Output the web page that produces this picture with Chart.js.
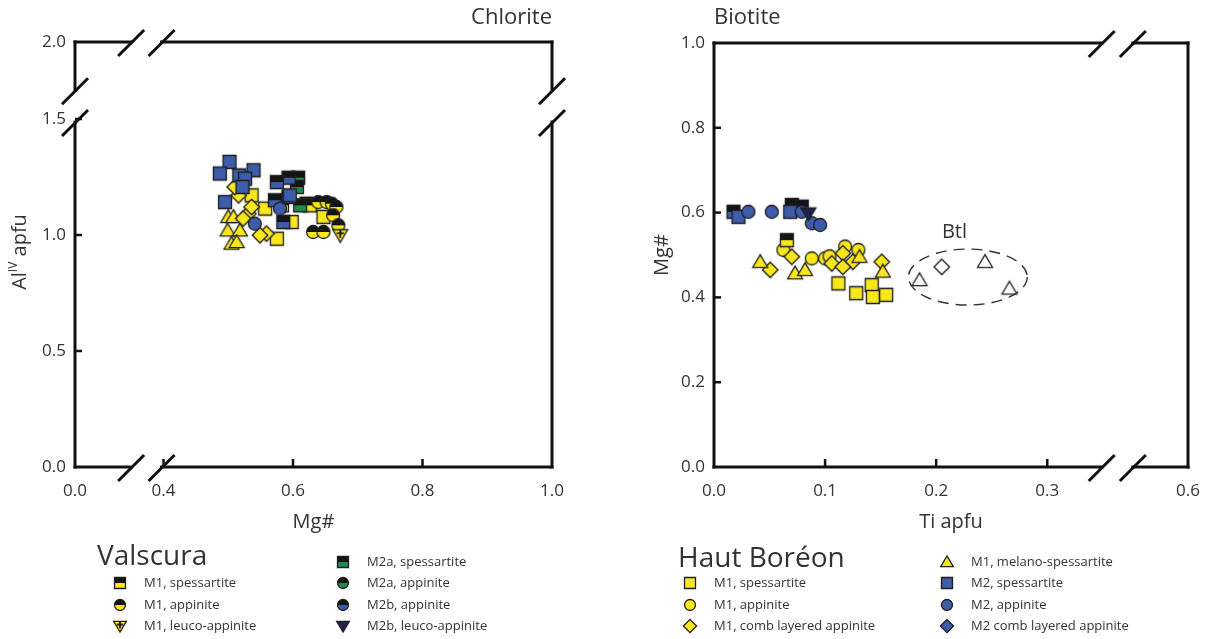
<!DOCTYPE html>
<html>
<head>
<meta charset="utf-8">
<script src="https://cdn.jsdelivr.net/npm/chart.js@4.4.1/dist/chart.umd.min.js"></script>
<style>
  body { margin: 0; background: #fff; }
  #wrap { position: relative; width: 1206px; height: 639px; }
  .box { position: absolute; top: 0; width: 603px; height: 639px; }
</style>
</head>
<body>
<div id="wrap">
  <div class="box" style="left:0"><canvas id="chlorite" width="603" height="639"></canvas></div>
  <div class="box" style="left:603px"><canvas id="biotite" width="603" height="639"></canvas></div>
</div>
<script>
// ---- chlorite (Mg# vs Al IV apfu), x axis broken between 0.0 and 0.4, y between 1.5 and 2.0
const chlXMin = 0.2633, chlXMax = 1.0;
const chlXTicks = [chlXMin, 0.4, 0.6, 0.8, 1.0];
const chlXTickLabels = ['0.0', '0.4', '0.6', '0.8', '1.0'];
const chlYMin = 0, chlYMax = 1.832;
const chlYTicks = [0, 0.5, 1.0, 1.5, chlYMax];
const chlYTickLabels = ['0.0', '0.5', '1.0', '1.5', '2.0'];

const chlHbM2Spess = [[0.502,1.315],[0.487,1.265],[0.517,1.257],[0.539,1.279],[0.526,1.243],[0.522,1.207],[0.495,1.142],[0.595,1.171]];
const chlHbM2App = [[0.541,1.049],[0.580,1.114]];
const chlVM2aSpess = [[0.608,1.247],[0.611,1.128],[0.606,1.207]];
const chlVM2bSpess = [[0.593,1.247],[0.575,1.228],[0.572,1.150],[0.585,1.056],[0.593,1.164]];
const chlVM1Spess = [[0.583,1.128],[0.621,1.135],[0.626,1.128]];
const chlHbM1Spess = [[0.536,1.171],[0.557,1.114],[0.598,1.056],[0.575,0.984],[0.647,1.078]];
const chlHbM1Comb = [[0.516,1.171],[0.531,1.092],[0.559,1.006],[0.549,0.999],[0.523,1.071],[0.510,1.207],[0.536,1.121]];
const chlHbM1Melano = [[0.500,1.078],[0.508,1.078],[0.499,1.020],[0.518,1.020],[0.505,0.963],[0.513,0.970]];
const chlVM1App = [[0.639,1.142],[0.652,1.142],[0.660,1.135],[0.667,1.121],[0.662,1.085],[0.670,1.042],[0.631,1.013],[0.647,1.013]];
const chlVM1Leuco = [[0.673,0.999]];

// ---- biotite (Ti apfu vs Mg#), x axis broken between 0.3 and 0.6
const btXMin = 0, btXMax = 0.4267;
const btXTicks = [0, 0.1, 0.2, 0.3, btXMax];
const btXTickLabels = ['0.0', '0.1', '0.2', '0.3', '0.6'];
const btYTicks = [0, 0.2, 0.4, 0.6, 0.8, 1.0];
const btYTickLabels = ['0.0', '0.2', '0.4', '0.6', '0.8', '1.0'];

const btVM2bSpess = [[0.0176,0.602],[0.070,0.618],[0.079,0.614]];
const btHbM2Spess = [[0.022,0.590],[0.0686,0.602]];
const btHbM2App = [[0.031,0.602],[0.052,0.602],[0.079,0.602],[0.088,0.575],[0.0955,0.571]];
const btVM2bLeuco = [[0.085,0.598]];
const btVM1Spess = [[0.0656,0.535]];
const btHbM1App = [[0.0625,0.512],[0.088,0.492],[0.100,0.492],[0.118,0.520],[0.130,0.512],[0.104,0.497]];
const btHbM1Comb = [[0.070,0.496],[0.0506,0.465],[0.106,0.480],[0.116,0.504],[0.125,0.484],[0.116,0.472],[0.151,0.484]];
const btHbM1Melano = [[0.0416,0.484],[0.073,0.457],[0.082,0.465],[0.152,0.461],[0.131,0.496]];
const btHbM1Spess = [[0.112,0.433],[0.128,0.410],[0.142,0.429],[0.143,0.401],[0.155,0.406]];
const btlTri = [[0.185,0.441],[0.244,0.484],[0.266,0.421]];
const btlDia = [[0.205,0.472]];
const btlEllipse = { cx: 0.2285, cy: 0.448, rx: 0.0535, ry: 0.066 };

const valscuraLabels = ['M1, spessartite', 'M1, appinite', 'M1, leuco-appinite',
  'M2a, spessartite', 'M2a, appinite', 'M2b, appinite', 'M2b, leuco-appinite'];
const boreonLabels = ['M1, spessartite', 'M1, appinite', 'M1, comb layered appinite',
  'M1, melano-spessartite', 'M2, spessartite', 'M2, appinite', 'M2 comb layered appinite'];

const YEL = '#f8e71c', BLU = '#3d5caa', GRN = '#1f8a4c', BLK = '#141414', NAVY = '#1e2250';
const FONT = "'Open Sans', 'Noto Sans', sans-serif";
const TXT = '#333';

function makeSymbol(shape, top, bottom, size, mark) {
  const pad = 3;
  const c = document.createElement('canvas');
  c.width = c.height = Math.ceil(size * 1.2) + pad * 2;
  const g = c.getContext('2d');
  const m = c.width / 2, r = size / 2;
  g.beginPath();
  if (shape === 'square') g.rect(m - r, m - r, size, size);
  else if (shape === 'circle') g.arc(m, m, r, 0, Math.PI * 2);
  else if (shape === 'diamond') {
    const d = r * 1.2;
    g.moveTo(m, m - d); g.lineTo(m + d, m); g.lineTo(m, m + d); g.lineTo(m - d, m); g.closePath();
  } else if (shape === 'triangle') {
    g.moveTo(m, m - r * 1.1); g.lineTo(m + r * 1.15, m + r * 0.85); g.lineTo(m - r * 1.15, m + r * 0.85); g.closePath();
  } else if (shape === 'triangleDown') {
    g.moveTo(m, m + r * 1.1); g.lineTo(m + r * 1.15, m - r * 0.85); g.lineTo(m - r * 1.15, m - r * 0.85); g.closePath();
  }
  g.save();
  g.clip();
  g.fillStyle = bottom;
  g.fillRect(0, 0, c.width, c.height);
  g.fillStyle = top;
  g.fillRect(0, 0, c.width, m);
  if (mark) {
    g.fillStyle = '#222';
    g.fillRect(m - 1, m - r * 0.8, 2, r * 1.2);
    g.fillRect(m - r * 0.55, m - r * 0.45, r * 1.1, 2);
  }
  g.restore();
  g.lineWidth = 1.3;
  g.strokeStyle = '#1e1e1e';
  g.stroke();
  return c;
}

function symbols(size) {
  return {
    ySq: makeSymbol('square', YEL, YEL, size),
    yCi: makeSymbol('circle', YEL, YEL, size),
    yDi: makeSymbol('diamond', YEL, YEL, size),
    yTr: makeSymbol('triangle', YEL, YEL, size),
    bSq: makeSymbol('square', BLU, BLU, size),
    bCi: makeSymbol('circle', BLU, BLU, size),
    bDi: makeSymbol('diamond', BLU, BLU, size),
    kySq: makeSymbol('square', BLK, YEL, size),
    kyCi: makeSymbol('circle', BLK, YEL, size),
    kgSq: makeSymbol('square', BLK, GRN, size),
    kgCi: makeSymbol('circle', BLK, GRN, size),
    kbSq: makeSymbol('square', BLK, BLU, size),
    kbCi: makeSymbol('circle', BLK, BLU, size),
    leuco: makeSymbol('triangleDown', YEL, YEL, size, true),
    navyTr: makeSymbol('triangleDown', NAVY, NAVY, size),
    hTr: makeSymbol('triangle', '#fff', '#fff', size),
    hDi: makeSymbol('diamond', '#fff', '#fff', size)
  };
}
const S = symbols(13);
const L = symbols(11);

const pts = arr => arr.map(p => ({ x: p[0], y: p[1] }));
const ds = (arr, sym) => ({ data: pts(arr), pointStyle: sym, pointRadius: 7, showLine: false });

// frame with broken axes and inward ticks
const framePlugin = {
  id: 'frame',
  afterDraw(chart, args, opts) {
    const { ctx, chartArea: a, scales: { x, y } } = chart;
    const xb = opts.xBreak ? opts.xBreak.map(v => x.getPixelForValue(v)) : null;
    const yb = opts.yBreak ? opts.yBreak.map(v => y.getPixelForValue(v)) : null;
    ctx.save();
    ctx.strokeStyle = '#111';
    ctx.lineWidth = 3;
    ctx.lineCap = 'square';
    const line = (x1, y1, x2, y2) => { ctx.beginPath(); ctx.moveTo(x1, y1); ctx.lineTo(x2, y2); ctx.stroke(); };
    const slash = (px, py) => {
      ctx.save(); ctx.lineCap = 'butt';
      line(px - 13, py + 14, px + 13, py - 12);
      ctx.restore();
    };
    for (const yy of [a.bottom, a.top]) {
      if (xb) {
        line(a.left, yy, xb[0], yy); line(xb[1], yy, a.right, yy);
        slash(xb[0], yy); slash(xb[1], yy);
      } else line(a.left, yy, a.right, yy);
    }
    for (const xx of [a.left, a.right]) {
      if (yb) {
        line(xx, a.top, xx, yb[1]); line(xx, yb[0], xx, a.bottom);
        slash(xx, yb[0]); slash(xx, yb[1]);
      } else line(xx, a.top, xx, a.bottom);
    }
    ctx.lineWidth = 2.5;
    ctx.lineCap = 'butt';
    x.ticks.forEach((t, i) => {
      if (i === 0 || i === x.ticks.length - 1) return;
      const px = x.getPixelForValue(t.value);
      line(px, a.bottom, px, a.bottom - 8);
    });
    y.ticks.forEach((t, i) => {
      if (i === 0 || i === y.ticks.length - 1) return;
      const py = y.getPixelForValue(t.value);
      line(a.left, py, a.left + 7, py);
    });
    ctx.restore();
  }
};

// titles, notes and custom legend
const textPlugin = {
  id: 'texts',
  afterDraw(chart, args, o) {
    const { ctx, chartArea: a, scales: { x, y } } = chart;
    ctx.save();
    ctx.fillStyle = TXT;
    ctx.textBaseline = 'middle';
    ctx.font = '22px ' + FONT;
    ctx.textAlign = o.titleAlign;
    ctx.fillText(o.title, o.titleAlign === 'right' ? a.right : a.left, 18);

    if (o.yTitleSup) {
      ctx.save();
      ctx.translate(20, 252);
      ctx.rotate(-Math.PI / 2);
      ctx.font = '20px ' + FONT;
      const w1 = ctx.measureText('Al').width;
      ctx.font = '12px ' + FONT;
      const w2 = ctx.measureText('IV').width;
      ctx.font = '20px ' + FONT;
      const w3 = ctx.measureText(' apfu').width;
      let sx = -(w1 + w2 + w3) / 2;
      ctx.textAlign = 'left';
      ctx.fillText('Al', sx, 0);
      ctx.font = '12px ' + FONT;
      ctx.fillText('IV', sx + w1, -6);
      ctx.font = '20px ' + FONT;
      ctx.fillText(' apfu', sx + w1 + w2, 0);
      ctx.restore();
    }

    if (o.ellipse) {
      const e = o.ellipse;
      const cx = x.getPixelForValue(e.cx), cy = y.getPixelForValue(e.cy);
      const rx = x.getPixelForValue(e.cx + e.rx) - cx, ry = cy - y.getPixelForValue(e.cy + e.ry);
      ctx.save();
      ctx.strokeStyle = '#333';
      ctx.lineWidth = 1.4;
      ctx.setLineDash([11, 7]);
      ctx.beginPath();
      ctx.ellipse(cx, cy, rx, ry, 0, 0, Math.PI * 2);
      ctx.stroke();
      ctx.restore();
      ctx.font = '20px ' + FONT;
      ctx.textAlign = 'center';
      ctx.fillText('Btl', x.getPixelForValue(o.btlAt[0]), y.getPixelForValue(o.btlAt[1]));
    }

    const lg = o.legend;
    ctx.textAlign = 'left';
    ctx.font = '28px ' + FONT;
    ctx.fillText(lg.heading, lg.hx, lg.hy);
    ctx.font = '13px ' + FONT;
    lg.items.forEach(it => {
      const img = it.sym;
      ctx.drawImage(img, it.x - img.width / 2, it.y - img.height / 2);
      ctx.fillText(it.label, it.x + 24, it.y);
    });
    ctx.restore();
  }
};

const noPad = s => { s.paddingLeft = 0; s.paddingRight = 0; s.paddingTop = 0; s.paddingBottom = 0; };

function axisX(min, max, ticks, labels, titleText) {
  return {
    type: 'linear', position: 'bottom', min: min, max: max,
    afterBuildTicks: s => { s.ticks = ticks.map(v => ({ value: v })); },
    afterFit: s => { s.height = 67; noPad(s); },
    ticks: {
      callback: (v, i) => labels[i], color: TXT, autoSkip: false, maxRotation: 0,
      font: { family: FONT, size: 17 }, padding: 6
    },
    grid: { display: false },
    border: { display: false },
    title: { display: !!titleText, text: titleText, color: TXT, font: { family: FONT, size: 20 }, padding: { top: 0, bottom: 0 } }
  };
}
function axisY(min, max, ticks, labels, width, titleText, titlePad) {
  return {
    type: 'linear', position: 'left', min: min, max: max,
    afterBuildTicks: s => { s.ticks = ticks.map(v => ({ value: v })); },
    afterFit: s => { s.width = width; noPad(s); },
    ticks: {
      callback: (v, i) => labels[i], color: TXT, autoSkip: false,
      font: { family: FONT, size: 17 }, padding: 1
    },
    grid: { display: false },
    border: { display: false },
    title: { display: !!titleText, text: titleText, color: TXT, font: { family: FONT, size: 20 }, padding: { top: titlePad || 0, bottom: 0 } }
  };
}

const baseOpts = {
  responsive: false,
  animation: false,
  events: [],
  plugins: { legend: { display: false }, tooltip: { enabled: false } }
};

new Chart(document.getElementById('chlorite'), {
  type: 'scatter',
  data: {
    datasets: [
      ds(chlVM1Leuco, S.leuco),
      ds(chlHbM2App, S.bCi),
      ds(chlVM1App, S.kyCi),
      ds(chlHbM2Spess, S.bSq),
      ds(chlVM2bSpess, S.kbSq),
      ds(chlVM2aSpess, S.kgSq),
      ds(chlVM1Spess, S.kySq),
      ds(chlHbM1Comb, S.yDi),
      ds(chlHbM1Spess, S.ySq),
      ds(chlHbM1Melano, S.yTr)
    ]
  },
  options: Object.assign({}, baseOpts, {
    layout: { padding: { left: 0, right: 51, top: 42, bottom: 105 } },
    scales: {
      x: axisX(chlXMin, chlXMax, chlXTicks, chlXTickLabels, 'Mg#'),
      y: axisY(chlYMin, chlYMax, chlYTicks, chlYTickLabels, 75, '', 0)
    },
    plugins: Object.assign({}, baseOpts.plugins, {
      frame: { xBreak: [0.35, 0.397], yBreak: [1.487, 1.624] },
      texts: {
        title: 'Chlorite', titleAlign: 'right', yTitleSup: true,
        legend: {
          heading: 'Valscura', hx: 97, hy: 557,
          items: [
            { label: valscuraLabels[0], sym: L.kySq, x: 120, y: 583 },
            { label: valscuraLabels[1], sym: L.kyCi, x: 120, y: 605 },
            { label: valscuraLabels[2], sym: L.leuco, x: 120, y: 626 },
            { label: valscuraLabels[3], sym: L.kgSq, x: 343, y: 562 },
            { label: valscuraLabels[4], sym: L.kgCi, x: 343, y: 583 },
            { label: valscuraLabels[5], sym: L.kbCi, x: 343, y: 605 },
            { label: valscuraLabels[6], sym: L.navyTr, x: 343, y: 626 }
          ]
        }
      }
    })
  }),
  plugins: [framePlugin, textPlugin]
});

new Chart(document.getElementById('biotite'), {
  type: 'scatter',
  data: {
    datasets: [
      ds(btVM2bLeuco, S.navyTr),
      ds(btHbM2App, S.bCi),
      ds(btHbM2Spess, S.bSq),
      ds(btVM2bSpess, S.kbSq),
      ds(btVM1Spess, S.kySq),
      ds(btHbM1Melano, S.yTr),
      ds(btHbM1Comb, S.yDi),
      ds(btHbM1App, S.yCi),
      ds(btHbM1Spess, S.ySq),
      ds(btlTri, S.hTr),
      ds(btlDia, S.hDi)
    ]
  },
  options: Object.assign({}, baseOpts, {
    layout: { padding: { left: 0, right: 18, top: 43, bottom: 105 } },
    scales: {
      x: axisX(btXMin, btXMax, btXTicks, btXTickLabels, 'Ti apfu'),
      y: axisY(0, 1, btYTicks, btYTickLabels, 111, 'Mg#', 47)
    },
    plugins: Object.assign({}, baseOpts.plugins, {
      frame: { xBreak: [0.349, 0.377] },
      texts: {
        title: 'Biotite', titleAlign: 'left', yTitleSup: false,
        ellipse: btlEllipse, btlAt: [0.2165, 0.553],
        legend: {
          heading: 'Haut Boréon', hx: 75, hy: 559,
          items: [
            { label: boreonLabels[0], sym: L.ySq, x: 87, y: 583 },
            { label: boreonLabels[1], sym: L.yCi, x: 87, y: 605 },
            { label: boreonLabels[2], sym: L.yDi, x: 87, y: 626 },
            { label: boreonLabels[3], sym: L.yTr, x: 344, y: 562 },
            { label: boreonLabels[4], sym: L.bSq, x: 344, y: 583 },
            { label: boreonLabels[5], sym: L.bCi, x: 344, y: 605 },
            { label: boreonLabels[6], sym: L.bDi, x: 344, y: 626 }
          ]
        }
      }
    })
  }),
  plugins: [framePlugin, textPlugin]
});
</script>
</body>
</html>
